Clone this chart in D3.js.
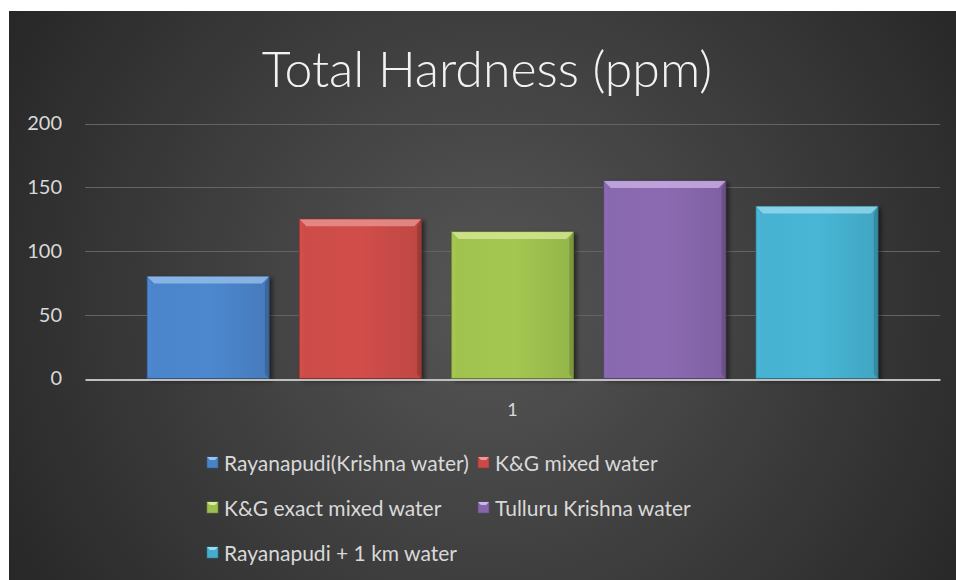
<!DOCTYPE html>
<html>
<head>
<meta charset="utf-8">
<script src="https://cdn.jsdelivr.net/npm/d3@7"></script>
<style>
  body { margin: 0; background: #fff; }
  svg text { font-family: Lato, "Open Sans", sans-serif; }
</style>
</head>
<body>
<div id="chart"></div>
<script>
// data
var categories = ["1"];
var seriesNames = ["Rayanapudi(Krishna water)", "K&G mixed water", "K&G exact mixed water", "Tulluru Krishna water", "Rayanapudi + 1 km water"];
var seriesValues = [80, 125, 115, 155, 135];
var yTicks = [0, 50, 100, 150, 200];
var seriesColors = ["#4a82c6", "#c84b47", "#9cbf4e", "#8666ab", "#45aecd"];
var bevelColors = ["#9cc3ec", "#eb9a96", "#d9eb9a", "#cdb6e8", "#9cdcef"];

var W = 956, H = 580;
var margin = {top: 123, right: 16, bottom: 202, left: 85},
    width = W - margin.left - margin.right,
    height = H - margin.top - margin.bottom;

var svg = d3.select("#chart").append("svg")
    .attr("width", W).attr("height", H);

var defs = svg.append("defs");
var bg = defs.append("radialGradient").attr("id", "bg")
    .attr("gradientUnits", "userSpaceOnUse")
    .attr("cx", 490).attr("cy", 300).attr("r", 560);
bg.append("stop").attr("offset", "0%").attr("stop-color", "#565656");
bg.append("stop").attr("offset", "100%").attr("stop-color", "#272727");

seriesColors.forEach(function(c, i) {
    var g = defs.append("linearGradient").attr("id", "bar" + i)
        .attr("x1", 0).attr("x2", 1).attr("y1", 0).attr("y2", 0);
    g.append("stop").attr("offset", "0%").attr("stop-color", d3.color(c).brighter(0.05));
    g.append("stop").attr("offset", "50%").attr("stop-color", d3.color(c).brighter(0.12));
    g.append("stop").attr("offset", "100%").attr("stop-color", d3.color(c).darker(0.15));
});

var shadow = defs.append("filter").attr("id", "shadow")
    .attr("x", "-10%").attr("y", "-10%").attr("width", "130%").attr("height", "130%");
shadow.append("feDropShadow").attr("dx", 3).attr("dy", 2).attr("stdDeviation", 2)
    .attr("flood-color", "#000").attr("flood-opacity", 0.5);

// chart background
svg.append("rect").attr("x", 9).attr("y", 11).attr("width", W - 9).attr("height", H - 11)
    .attr("fill", "url(#bg)");

// title
svg.append("text").attr("x", 487).attr("y", 87)
    .attr("text-anchor", "middle").attr("fill", "#f2f2f2")
    .style("font-size", "50px").style("font-weight", 300)
    .text("Total Hardness (ppm)");

var g = svg.append("g").attr("transform", "translate(" + margin.left + "," + margin.top + ")");

var y = d3.scaleLinear().domain([0, 200]).range([height + 0.5, 0.5]);

var x0 = d3.scaleBand().domain(categories).range([0, width]).paddingOuter(0.0617);
var x1 = d3.scaleBand().domain(seriesNames).range([0, x0.bandwidth()])
    .paddingInner(0.2).paddingOuter(0.1);

// gridlines
g.append("g").selectAll("line").data(yTicks.slice(1)).enter().append("line")
    .attr("x1", 0).attr("x2", width)
    .attr("y1", function(d) { return Math.round(y(d)) + 0.5; })
    .attr("y2", function(d) { return Math.round(y(d)) + 0.5; })
    .attr("stroke", "#646464").attr("stroke-width", 1);

// y axis labels
var yAxis = g.append("g")
    .call(d3.axisLeft(y).tickValues(yTicks).tickSize(0).tickPadding(23));
yAxis.select(".domain").remove();
yAxis.selectAll("text").attr("fill", "#d9d9d9").style("font-size", "20px");

// bars
var bars = g.append("g").selectAll("g.bar")
    .data(seriesValues.map(function(v, i) { return {name: seriesNames[i], value: v, i: i}; }))
    .enter().append("g").attr("class", "bar")
    .attr("transform", function(d) { return "translate(" + (x0(categories[0]) + x1(d.name)) + ",0)"; });

bars.append("rect")
    .attr("x", 0).attr("y", function(d) { return y(d.value); })
    .attr("width", x1.bandwidth())
    .attr("height", function(d) { return y(0) - y(d.value); })
    .attr("fill", function(d) { return "url(#bar" + d.i + ")"; })
    .attr("stroke", function(d) { return d3.color(seriesColors[d.i]).darker(1.2); })
    .attr("stroke-width", 1)
    .attr("filter", "url(#shadow)");

// top bevel
bars.append("path")
    .attr("d", function(d) {
        var t = y(d.value), w = x1.bandwidth(), b = 7;
        return "M0," + t + "L" + w + "," + t + "L" + (w - b) + "," + (t + b) + "L" + b + "," + (t + b) + "Z";
    })
    .attr("fill", function(d) { return bevelColors[d.i]; }).attr("opacity", 0.75);
// side bevels
bars.append("path")
    .attr("d", function(d) {
        var t = y(d.value), w = x1.bandwidth(), b = 7, s = 4, bot = y(0);
        return "M" + w + "," + t + "L" + w + "," + bot + "L" + (w - s) + "," + (bot - s) + "L" + (w - s) + "," + (t + b) + "Z";
    })
    .attr("fill", function(d) { return d3.color(seriesColors[d.i]).darker(0.8); }).attr("opacity", 0.8);
bars.append("path")
    .attr("d", function(d) {
        var t = y(d.value), b = 7, s = 4, bot = y(0);
        return "M0," + t + "L" + s + "," + (t + b) + "L" + s + "," + (bot - s) + "L0," + bot + "Z";
    })
    .attr("fill", function(d) { return d3.color(seriesColors[d.i]).brighter(0.2); }).attr("opacity", 0.5);

// x axis
var xAxis = g.append("g").attr("transform", "translate(0," + (Math.round(y(0)) + 0.5) + ")")
    .call(d3.axisBottom(x0).tickSize(0).tickPadding(24));
xAxis.select(".domain").attr("stroke", "#bfbfbf").attr("stroke-width", 2);
xAxis.selectAll("text").attr("fill", "#d9d9d9").style("font-size", "18px");

// legend
var legCols = [207, 478], legRows = [463, 508, 553];
var leg = svg.append("g").selectAll("g.leg").data(seriesNames).enter().append("g")
    .attr("transform", function(d, i) { return "translate(" + legCols[i % 2] + "," + legRows[Math.floor(i / 2)] + ")"; });
leg.append("rect").attr("x", 0).attr("y", -6).attr("width", 11).attr("height", 11)
    .attr("fill", function(d, i) { return seriesColors[i]; })
    .attr("stroke", function(d, i) { return d3.color(seriesColors[i]).darker(1); }).attr("stroke-width", 0.6);
leg.append("path").attr("d", "M0,-6L11,-6L8,-3L3,-3Z")
    .attr("fill", function(d, i) { return bevelColors[i]; });
leg.append("text").attr("x", 17).attr("y", 0).attr("dy", "0.36em")
    .attr("fill", "#d9d9d9").style("font-size", "21px")
    .text(function(d) { return d; });
</script>
</body>
</html>
